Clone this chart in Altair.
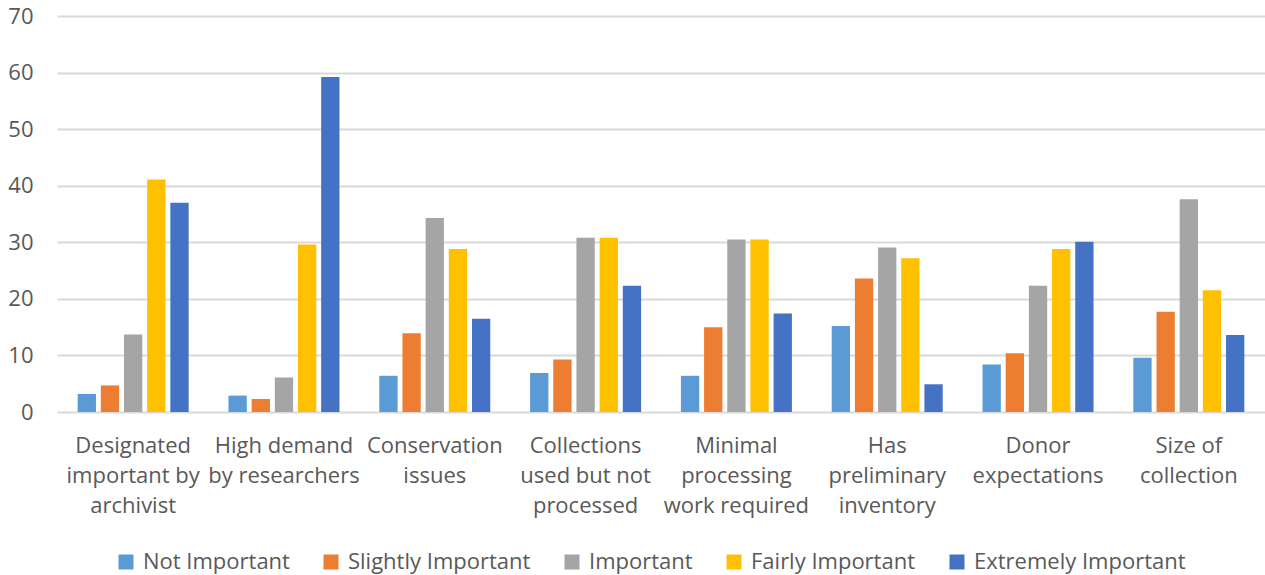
import altair as alt
import pandas as pd

categories = [
    "Designated\nimportant by\narchivist",
    "High demand\nby researchers",
    "Conservation\nissues",
    "Collections\nused but not\nprocessed",
    "Minimal\nprocessing\nwork required",
    "Has\npreliminary\ninventory",
    "Donor\nexpectations",
    "Size of\ncollection",
]
series = ["Not Important", "Slightly Important", "Important", "Fairly Important", "Extremely Important"]
colors = ["#5B9BD5", "#ED7D31", "#A5A5A5", "#FFC000", "#4472C4"]

not_important = [3.2, 2.9, 6.4, 6.9, 6.4, 15.2, 8.4, 9.6]
slightly_important = [4.7, 2.3, 13.9, 9.3, 15.0, 23.6, 10.4, 17.7]
important = [13.7, 6.1, 34.3, 30.8, 30.5, 29.1, 22.3, 37.6]
fairly_important = [41.1, 29.6, 28.8, 30.8, 30.5, 27.2, 28.8, 21.5]
extremely_important = [37.0, 59.2, 16.5, 22.3, 17.4, 4.9, 30.1, 13.6]

y_ticks = [0, 10, 20, 30, 40, 50, 60, 70]

values = [not_important, slightly_important, important, fairly_important, extremely_important]
rows = []
for s, vals in zip(series, values):
    for c, v in zip(categories, vals):
        rows.append({"category": c, "series": s, "value": v})
df = pd.DataFrame(rows)

FONT = "Open Sans"
TXT = "#595959"

chart = alt.Chart(df).mark_bar().encode(
    x=alt.X("category:N", sort=categories, title=None,
            scale=alt.Scale(paddingInner=0.264, paddingOuter=0.137),
            axis=alt.Axis(labelExpr="split(datum.value, '\\n')", labelAngle=0,
                          labelLineHeight=30, labelBaseline="top", labelPadding=23,
                          labelLimit=300, ticks=False, domain=False,
                          labelFont=FONT, labelFontSize=22, labelColor=TXT)),
    xOffset=alt.XOffset("series:N", sort=series,
                        scale=alt.Scale(paddingInner=0.21, paddingOuter=0)),
    y=alt.Y("value:Q", title=None,
            scale=alt.Scale(domain=[0, 70], nice=False),
            axis=alt.Axis(values=y_ticks, ticks=False, domain=False,
                          labelPadding=24, gridColor="#d9d9d9", gridWidth=2,
                          labelFont=FONT, labelFontSize=22, labelColor=TXT)),
    color=alt.Color("series:N", sort=series, title=None,
                    scale=alt.Scale(domain=series, range=colors),
                    legend=alt.Legend(orient="none", legendX=58, legendY=535,
                                      direction="horizontal", symbolType="square",
                                      symbolSize=225, symbolStrokeWidth=0,
                                      labelFont=FONT, labelFontSize=22, labelColor=TXT,
                                      labelLimit=400, labelOffset=6, columnPadding=30)),
).properties(
    width=1208,
    height=396,
    autosize=alt.AutoSizeParams(type="none"),
    padding={"left": 57, "top": 16, "right": 0, "bottom": 163},
).configure_view(stroke=None)

chart.save("out.html", embed_options={"renderer": "svg", "actions": False})
